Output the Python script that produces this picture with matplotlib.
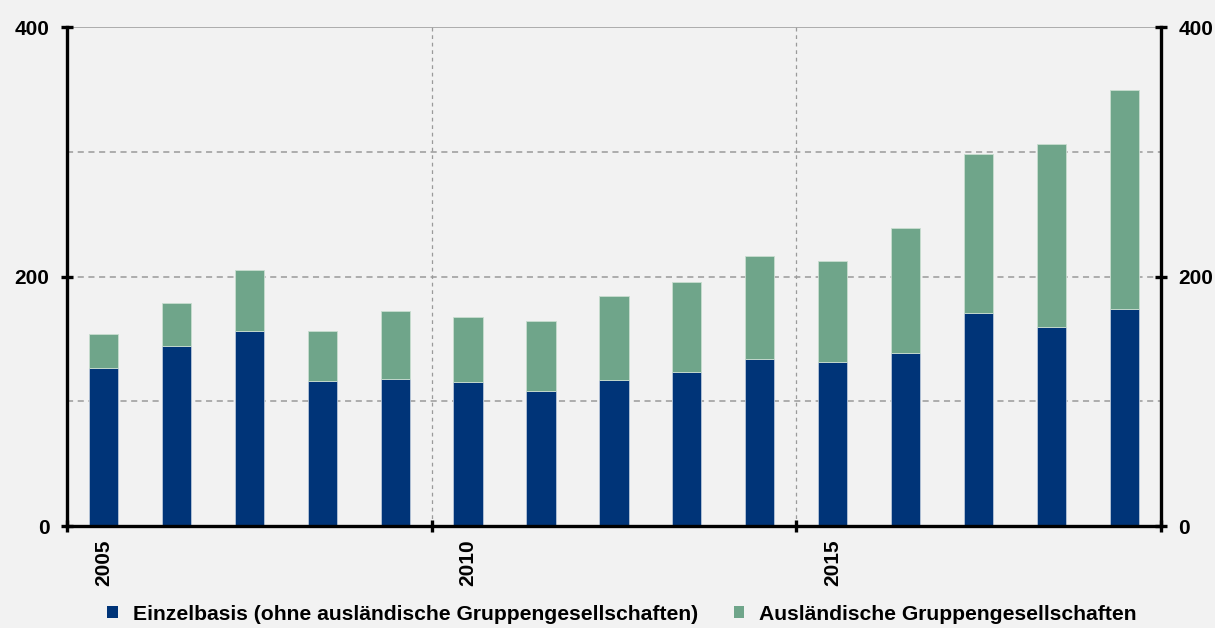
import matplotlib.pyplot as plt
import matplotlib.transforms as mtransforms
import numpy as np
from matplotlib.patches import Patch

years = list(range(2005, 2020))
einzelbasis = [126.9, 144.5, 156.3, 116.0, 118.1, 115.2, 108.0, 117.3,
               123.7, 134.1, 131.7, 138.9, 170.7, 159.3, 173.7]
gesamt = [153.9, 178.5, 205.2, 156.0, 172.6, 167.3, 164.6, 184.1,
          195.6, 216.4, 212.2, 238.9, 297.9, 306.0, 349.5]
auslaendisch = [g - e for g, e in zip(gesamt, einzelbasis)]
year_labels = ["2005", "2010", "2015"]
legend_labels = ["Einzelbasis (ohne ausländische Gruppengesellschaften)",
                 "Ausländische Gruppengesellschaften"]

BLUE = "#003478"
GREEN = "#6fa58a"
BG = "#f2f2f2"

plt.rcParams["font.family"] = ["Liberation Sans", "DejaVu Sans"]
plt.rcParams["font.weight"] = "bold"

fig = plt.figure(figsize=(12.15, 6.28), dpi=100, facecolor=BG)
ax = fig.add_axes([0.0551, 0.1624, 0.9004, 0.7946], facecolor=BG)

x = np.arange(len(years))
ax.bar(x, einzelbasis, width=0.4, color=BLUE, edgecolor="#b8c6d8",
       linewidth=0.6, zorder=3)
ax.bar(x, auslaendisch, width=0.4, bottom=einzelbasis, color=GREEN,
       edgecolor="#c9ddd0", linewidth=0.6, zorder=3)

ax.set_xlim(-0.5, len(years) - 0.5)
ax.set_ylim(0, 400)

# grid lines
for v in [100, 200, 300]:
    ax.axhline(v, color="#9a9a9a", linestyle=(0, (4, 3)), linewidth=1.1, zorder=1)
ax.axhline(400, color="#9a9a9a", linewidth=1.1, zorder=1)
for v in [4.5, 9.5]:
    ax.axvline(v, color="#9a9a9a", linestyle=(0, (3, 3)), linewidth=0.9, zorder=1)

ax.spines["top"].set_visible(False)
for side in ["left", "right", "bottom"]:
    ax.spines[side].set_linewidth(2.4)
    ax.spines[side].set_color("black")
ax.spines["bottom"].set_zorder(4)

ax.set_yticks([0, 200, 400])
ax.tick_params(axis="y", direction="inout", length=9, width=2.4,
               labelsize=15, pad=8, left=True, right=True,
               labelleft=True, labelright=True)
ax.set_xticks([-0.5, 4.5, 9.5, 14.5])
ax.set_xticklabels([])
ax.tick_params(axis="x", direction="inout", length=9, width=2.4)

trans = mtransforms.blended_transform_factory(ax.transData, ax.transAxes)
for lab in year_labels:
    pos = years.index(int(lab))
    ax.text(pos, -0.027, lab, transform=trans, rotation=90, ha="center",
            va="top", fontsize=15, fontweight="bold")

handles = [Patch(facecolor=BLUE, edgecolor="none"),
           Patch(facecolor=GREEN, edgecolor="none")]
fig.legend(handles, legend_labels, loc="center", bbox_to_anchor=(0.512, 0.022),
           ncol=2, frameon=False, handlelength=0.5, handleheight=0.5,
           handletextpad=0.7, columnspacing=1.7,
           prop={"weight": "bold", "size": 15.2})

fig.savefig("out.png", dpi=100, facecolor=BG)
